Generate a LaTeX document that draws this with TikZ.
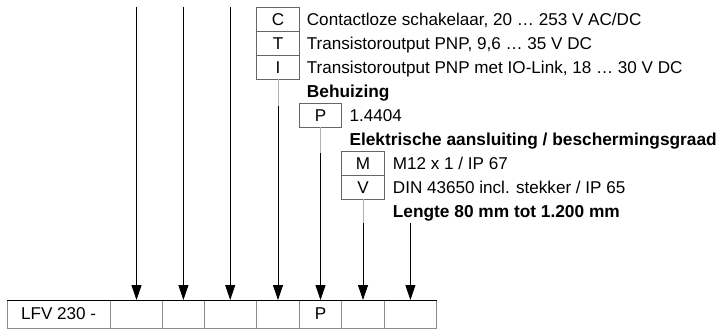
\documentclass[tikz,border=0pt]{standalone}
\usepackage{fontspec}
\setmainfont{Liberation Sans}
\usetikzlibrary{arrows.meta}
\begin{document}
\begin{tikzpicture}[x=1pt,y=-1pt,
  font=\fontsize{17.1}{20}\selectfont,
  cell/.style={draw=black!60, line width=0.6pt, minimum height=24pt, inner sep=0pt, outer sep=0pt},
  bcell/.style={draw=black!45, line width=0.6pt, minimum height=28pt, inner sep=0pt, outer sep=0pt},
  lbl/.style={anchor=base west, inner sep=0pt},
  hdr/.style={anchor=base west, inner sep=0pt, font=\fontsize{17.3}{20}\selectfont\bfseries},
  conn/.style={draw=black, line width=0.9pt, -{Triangle[width=10pt,length=15pt]}},
  fade/.style={draw=black!30, line width=0.9pt}]
\useasboundingbox (0,0) rectangle (720,330);
% option boxes
\node[cell, minimum width=42.6pt] (C) at (278,19.3) {C};
\node[cell, minimum width=42.6pt] (T) at (278,43.3) {T};
\node[cell, minimum width=42.6pt] (I) at (278,67.3) {I};
\node[cell, minimum width=42.4pt] (P) at (320.5,115.3) {P};
\node[cell, minimum width=42.6pt] (M) at (363,163.3) {M};
\node[cell, minimum width=42.6pt] (V) at (363,187.3) {V};
% texts
\node[lbl] (tC) at (306.7,25.3) {Contactloze schakelaar, 20 … 253 V AC/DC};
\node[lbl] (tT) at (306.7,49.3) {Transistoroutput PNP, 9,6 … 35 V DC};
\node[lbl] (tI) at (306.7,73.3) {Transistoroutput PNP met IO-Link, 18 … 30 V DC};
\node[hdr] (hB) at (306.7,97.3) {Behuizing};
\node[lbl] (tP) at (349.5,121.3) {1.4404};
\node[hdr] (hE) at (349.3,145.3) {Elektrische aansluiting / beschermingsgraad};
\node[lbl] (tM) at (392.7,169.3) {M12 x 1 / IP 67};
\node[lbl] (tV) at (392.7,193.3) {DIN 43650 incl. stekker / IP 65};
\node[hdr] (hL) at (392.7,217.3) {Lengte 80 mm tot 1.200 mm};
% bottom row
\node[bcell, minimum width=102.7pt] (b0) at (58.65,314) {LFV 230 -};
\node[bcell, minimum width=52.7pt] (b1) at (136.35,314) {};
\node[bcell, minimum width=41.8pt] (b2) at (183.6,314) {};
\node[bcell, minimum width=52.2pt] (b3) at (230.6,314) {};
\node[bcell, minimum width=42.6pt] (b4) at (278,314) {};
\node[bcell, minimum width=42.4pt] (b5) at (320.5,314) {P};
\node[bcell, minimum width=42.6pt] (b6) at (363,314) {};
\node[bcell, minimum width=52.2pt] (b7) at (410.4,314) {};
\draw[black, line width=0.7pt] (b0.north west) -- (b7.north east);
% free ends
\coordinate (s1) at (136.5,7.3);
\coordinate (s2) at (183.4,7.3);
\coordinate (s3) at (230.2,7.3);
\coordinate (sL) at (410.4,223);
\coordinate (gC) at (278,106);
\coordinate (gP) at (320.5,153);
\coordinate (gV) at (363,223);
% connectors
\draw[conn] (s1) -- (s1 |- b1.north);
\draw[conn] (s2) -- (s2 |- b2.north);
\draw[conn] (s3) -- (s3 |- b3.north);
\draw[conn] (I.south) -- (b4.north);
\draw[conn] (P.south) -- (b5.north);
\draw[conn] (V.south) -- (b6.north);
\draw[conn] (sL) -- (b7.north);
\draw[fade] (I.south) -- (gC);
\draw[fade] (P.south) -- (gP);
\draw[fade] (V.south) -- (gV);
\end{tikzpicture}
\end{document}
